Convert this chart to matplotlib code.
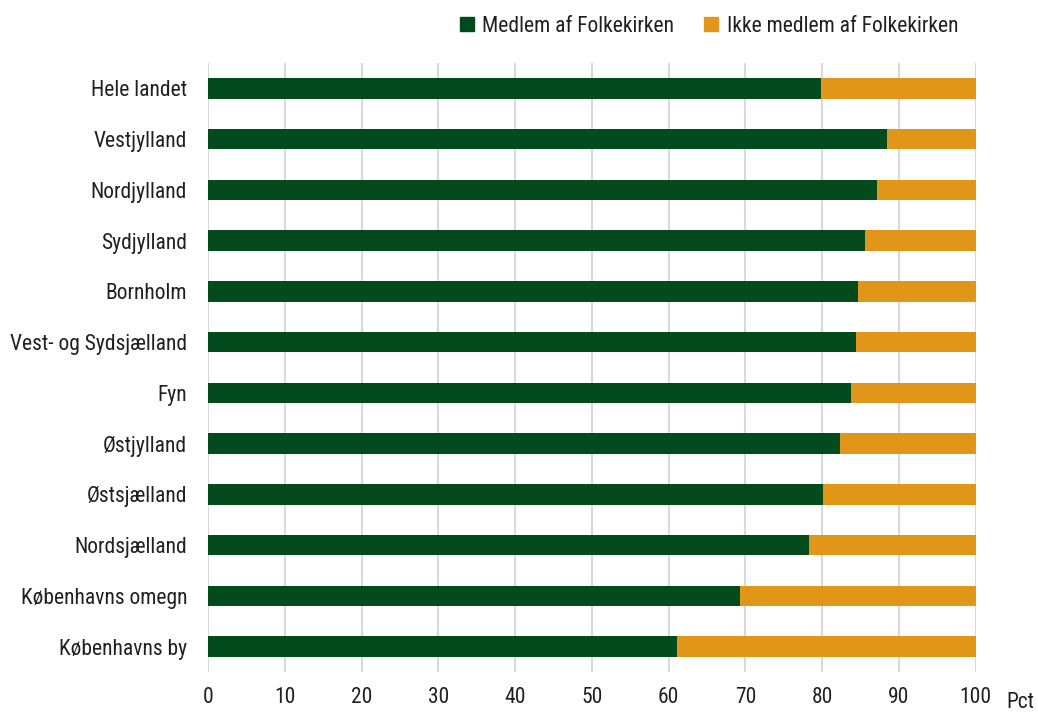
import matplotlib
matplotlib.use('Agg')
import matplotlib.pyplot as plt
from matplotlib.patches import Patch

plt.rcParams['font.family'] = ['Roboto Condensed', 'Liberation Sans Narrow', 'Roboto', 'DejaVu Sans']

regions = [
    'Hele landet', 'Vestjylland', 'Nordjylland', 'Sydjylland', 'Bornholm',
    'Vest- og Sydsjælland', 'Fyn', 'Østjylland', 'Østsjælland',
    'Nordsjælland', 'Københavns omegn', 'Københavns by',
]
medlem = [79.8, 88.4, 87.2, 85.6, 84.7, 84.4, 83.8, 82.3, 80.1, 78.3, 69.3, 61.1]
ikke_medlem = [100 - v for v in medlem]

COL_M = '#034A1C'
COL_I = '#E29619'
TXT = '#231f20'
FS = 15.5

fig = plt.figure(figsize=(10.38, 7.13), dpi=100)
ax = fig.add_axes([0.2004, 0.0575, 0.7396, 0.8541])

ypos = list(range(len(regions)))
ax.barh(ypos, medlem, height=0.4, color=COL_M, zorder=3)
ax.barh(ypos, ikke_medlem, left=medlem, height=0.4, color=COL_I, zorder=3)

ax.set_xlim(0, 100)
ax.set_ylim(len(regions) - 0.5, -0.5)
ax.set_xticks(range(0, 101, 10))
ax.set_yticks(ypos)
ax.set_yticklabels(regions)
ax.tick_params(axis='both', length=0, labelsize=FS, colors=TXT)
ax.tick_params(axis='y', pad=15)
ax.tick_params(axis='x', pad=11)
ax.grid(axis='x', color='#d9d9d9', linewidth=1.5, zorder=0)
for sp in ax.spines.values():
    sp.set_visible(False)

fig.text(0.970, 0.0, 'Pct', fontsize=FS, color=TXT, ha='left', va='bottom')

handles = [Patch(color=COL_M, label='Medlem af Folkekirken'),
           Patch(color=COL_I, label='Ikke medlem af Folkekirken')]
fig.legend(handles=handles, loc='upper right', bbox_to_anchor=(0.942, 1.005),
           ncol=2, frameon=False, fontsize=FS, handlelength=0.65, handleheight=0.65,
           handletextpad=0.4, columnspacing=1.4, labelcolor=TXT)

fig.savefig('out.png', dpi=100)
